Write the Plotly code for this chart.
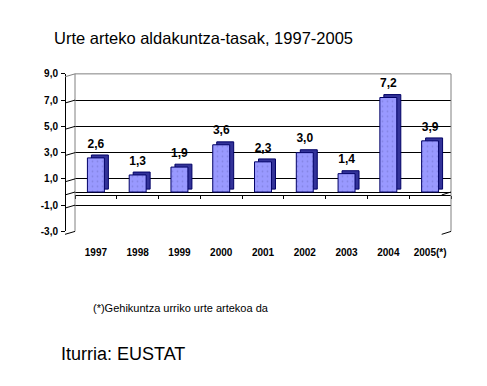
import plotly.graph_objects as go

# ---- data ----
categories = ["1997", "1998", "1999", "2000", "2001", "2002", "2003", "2004", "2005(*)"]
values = [2.6, 1.3, 1.9, 3.6, 2.3, 3.0, 1.4, 7.2, 3.9]
y_ticks = [-3, -1, 1, 3, 5, 7, 9]
y_ticktext = [f"{v:.1f}".replace(".", ",") for v in y_ticks]
bar_text = [f"{v:.1f}".replace(".", ",") for v in values]

title_text = "Urte arteko aldakuntza-tasak, 1997-2005"
note_text = "(*)Gehikuntza urriko urte artekoa da"
source_text = "Iturria: EUSTAT"

# ---- geometry helpers (pixel -> paper) ----
W, H = 487, 386
def px(x):
    return x / W
def py(y):
    return 1 - y / H

UNIT = 13.55          # pixels per unit on value axis
FRONT0 = 195.0        # pixel y of value 0 on front plane
BACK0 = 192.0         # pixel y of value 0 on back wall
def yfront(v):
    return FRONT0 - v * UNIT
def yback(v):
    return BACK0 - v * UNIT

FX0, FX1 = 65.0, 441.7    # front category span
WX0, WX1 = 75.0, 451.0    # back wall span
BAR_SHIFT = 3.5
CAT_PX = (FX1 - FX0) / len(categories)
DEPTH_DX = 4.0 / CAT_PX       # depth offset in category units
DEPTH_DY = 3.0 / UNIT         # depth offset in value units
LABEL_DY = 4.5 / UNIT         # extra gap between bar top and its label
BAR_W = 0.406

YMIN, YMAX = -3, 9
FONT = "Liberation Sans, Arial, sans-serif"

idx = list(range(len(categories)))

fig = go.Figure()

# invisible anchor trace for back wall subplot
fig.add_trace(go.Scatter(x=categories, y=values, xaxis="x", yaxis="y",
                         mode="markers", marker=dict(opacity=0),
                         hoverinfo="skip", showlegend=False))
# depth faces of bars (drawn behind front faces)
fig.add_trace(go.Bar(x=[i + DEPTH_DX for i in idx], y=values, base=DEPTH_DY, width=BAR_W,
                     xaxis="x3", yaxis="y2",
                     marker=dict(color="#333399", line=dict(color="#000066", width=1)),
                     hoverinfo="skip", showlegend=False))
# front faces of bars
fig.add_trace(go.Bar(x=idx, y=values, width=BAR_W, xaxis="x3", yaxis="y2",
                     marker=dict(color="#9999FF", line=dict(color="#000066", width=1),
                                 pattern=dict(shape=".", fgcolor="#6f6fc8", size=5, solidity=0.1)),
                     hoverinfo="skip", showlegend=False))
# value labels above bars
fig.add_trace(go.Scatter(x=idx, y=[v + DEPTH_DY + LABEL_DY for v in values],
                         xaxis="x3", yaxis="y2",
                         mode="text", text=bar_text, textposition="top center",
                         cliponaxis=False,
                         textfont=dict(family=FONT, size=12, color="black", weight="bold"),
                         hoverinfo="skip", showlegend=False))
# anchor trace for front category axis
fig.add_trace(go.Scatter(x=categories, y=values, xaxis="x4", yaxis="y2",
                         mode="markers", marker=dict(opacity=0),
                         hoverinfo="skip", showlegend=False))

cat_range = [-0.5, len(categories) - 0.5]
common_cat = dict(type="category", categoryorder="array", categoryarray=categories,
                  range=cat_range, fixedrange=True)

shapes = []
# back wall border (gray)
shapes.append(dict(type="line", xref="paper", yref="paper", x0=px(WX0), y0=py(yback(YMAX)),
                   x1=px(WX1), y1=py(yback(YMAX)), line=dict(color="#808080", width=1)))
shapes.append(dict(type="line", xref="paper", yref="paper", x0=px(WX0), y0=py(yback(YMAX)),
                   x1=px(WX0), y1=py(yback(YMIN)), line=dict(color="#808080", width=1)))
shapes.append(dict(type="line", xref="paper", yref="paper", x0=px(WX1), y0=py(yback(YMAX)),
                   x1=px(WX1), y1=py(yback(YMIN)), line=dict(color="#808080", width=1)))
# side wall gridline segments
for v in y_ticks + [0]:
    col = "#808080" if v == YMAX else "black"
    shapes.append(dict(type="line", xref="paper", yref="paper", x0=px(FX0), y0=py(yfront(v)),
                       x1=px(WX0), y1=py(yback(v)), line=dict(color=col, width=1)))
# right floor / base edges
for v in [0, YMIN]:
    shapes.append(dict(type="line", xref="paper", yref="paper", x0=px(FX1), y0=py(yfront(v)),
                       x1=px(WX1), y1=py(yback(v)), line=dict(color="black", width=1)))

annotations = [
    dict(text=title_text, xref="paper", yref="paper", x=px(52), y=py(33),
         xanchor="left", yanchor="middle", showarrow=False,
         font=dict(family=FONT, size=16.5, color="black")),
    dict(text=note_text, xref="paper", yref="paper", x=px(91), y=py(312),
         xanchor="left", yanchor="middle", showarrow=False,
         font=dict(family=FONT, size=11, color="black")),
    dict(text=source_text, xref="paper", yref="paper", x=px(59), y=py(359),
         xanchor="left", yanchor="middle", showarrow=False,
         font=dict(family=FONT, size=18, color="black")),
]

back_dom = [py(yback(YMIN)), py(yback(YMAX))]
front_dom = [py(yfront(YMIN)), py(yfront(YMAX))]

fig.update_layout(
    width=W, height=H,
    margin=dict(l=0, r=0, t=0, b=0),
    paper_bgcolor="white", plot_bgcolor="rgba(0,0,0,0)",
    barmode="overlay",
    font=dict(family=FONT, color="black"),
    shapes=shapes, annotations=annotations,
    xaxis=dict(domain=[px(WX0), px(WX1)], anchor="y", visible=False, **common_cat),
    yaxis=dict(domain=back_dom, anchor="x", range=[YMIN, YMAX],
               tickmode="array", tickvals=[-1, 1, 3, 5, 7], showticklabels=False, ticks="",
               showgrid=True, gridcolor="black", gridwidth=1,
               zeroline=True, zerolinecolor="black", zerolinewidth=1,
               showline=False, fixedrange=True),
    yaxis2=dict(domain=front_dom, anchor="free", position=px(FX0),
                overlaying="y", side="left", range=[YMIN, YMAX],
                tickmode="array", tickvals=y_ticks, ticktext=y_ticktext,
                ticks="outside", ticklen=4, tickcolor="black",
                showline=True, linecolor="black", linewidth=1,
                showgrid=False, zeroline=False, ticklabelstandoff=1,
                tickfont=dict(family=FONT, size=10, color="black", weight="bold"),
                fixedrange=True),
    xaxis3=dict(domain=[px(FX0 + BAR_SHIFT), px(FX1 + BAR_SHIFT)],
                anchor="y2", overlaying="x", visible=False, type="linear",
                range=cat_range, fixedrange=True),
    xaxis4=dict(domain=[px(FX0), px(FX1)], anchor="free", position=py(FRONT0),
                overlaying="x", side="bottom", tickangle=0,
                showline=True, linecolor="black", linewidth=1,
                ticks="outside", ticklen=3, tickcolor="black", tickson="boundaries",
                showgrid=False, zeroline=False, ticklabelstandoff=48,
                tickfont=dict(family=FONT, size=10, color="black", weight="bold"),
                **common_cat),
)

fig.write_html("out.html", config={"displayModeBar": False},
               post_script="document.body.style.margin='0';document.body.style.overflow='hidden';")
